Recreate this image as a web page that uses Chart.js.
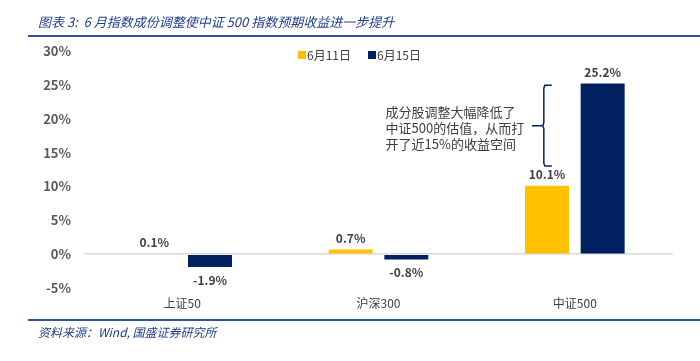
<!DOCTYPE html>
<html>
<head>
<meta charset="utf-8">
<script src="https://cdn.jsdelivr.net/npm/chart.js@4.4.1/dist/chart.umd.min.js"></script>
<style>
  html, body { margin: 0; padding: 0; background: #fff; }
  #wrap { position: relative; width: 700px; height: 361px; }
</style>
</head>
<body>
<div id="wrap"><canvas id="chart" width="700" height="361"></canvas></div>
<script>
// chart data
const categories = ["上证50", "沪深300", "中证500"]
const june11 = [0.1, 0.7, 10.1]
const june15 = [-1.9, -0.8, 25.2]
const seriesNames = ["6月11日", "6月15日"]
const yTicks = [-5, 0, 5, 10, 15, 20, 25, 30]
const titleText = "图表 3:  6 月指数成份调整使中证 500 指数预期收益进一步提升"
const sourceText = "资料来源：Wind, 国盛证券研究所"
const noteLines = ["成分股调整大幅降低了", "中证500的估值，从而打", "开了近15%的收益空间"]

const FONT = "'Noto Sans CJK SC', 'Noto Sans', sans-serif"
const YELLOW = "#FFC000"
const NAVY = "#002060"
const BLUE = "#2F5597"

// title, legend, source line, labels and bracket note
const decorations = {
  id: "decorations",
  afterDraw(chart) {
    const ctx = chart.ctx
    const x = chart.scales.x
    const y = chart.scales.y
    ctx.save()

    // header / footer
    ctx.fillStyle = "#1F3F8F"
    ctx.font = "italic 13px " + FONT
    ctx.textBaseline = "middle"
    ctx.textAlign = "left"
    ctx.fillText(titleText, 38, 22)
    ctx.font = "italic 12px " + FONT
    ctx.fillText(sourceText, 38, 332)
    ctx.strokeStyle = BLUE
    ctx.lineWidth = 2
    ctx.beginPath()
    ctx.moveTo(28, 36); ctx.lineTo(700, 36)
    ctx.moveTo(28, 320); ctx.lineTo(700, 320)
    ctx.stroke()

    // legend
    ctx.font = "12px " + FONT
    let lx = 298
    chart.data.datasets.forEach(ds => {
      ctx.fillStyle = ds.backgroundColor
      ctx.fillRect(lx, 51, 8, 8)
      ctx.fillStyle = "#404040"
      ctx.fillText(ds.label, lx + 9, 55)
      lx += 70
    })

    // value labels
    ctx.font = "bold 12px " + FONT
    ctx.fillStyle = "#404040"
    ctx.textAlign = "center"
    chart.data.datasets.forEach((ds, i) => {
      chart.getDatasetMeta(i).data.forEach((bar, j) => {
        const v = ds.data[j]
        const ty = v >= 0 ? bar.y - 11 : bar.y + 13
        ctx.fillText(v.toFixed(1) + "%", bar.x, ty)
      })
    })

    // note text
    ctx.font = "13px " + FONT
    ctx.fillStyle = "#404040"
    ctx.textAlign = "left"
    const tx = x.getPixelForValue(1) + 7
    const ty0 = y.getPixelForValue(21.0)
    noteLines.forEach((line, k) => ctx.fillText(line, tx, ty0 + k * 16))

    // bracket
    const bx = x.getPixelForValue(2) - 31
    const top = y.getPixelForValue(24.95)
    const bot = y.getPixelForValue(13.0)
    const mid = (top + bot) / 2
    ctx.strokeStyle = NAVY
    ctx.lineWidth = 1.5
    ctx.beginPath()
    ctx.moveTo(bx + 8, top); ctx.lineTo(bx + 1, top); ctx.lineTo(bx, top + 3)
    ctx.lineTo(bx, mid - 3); ctx.lineTo(bx - 1, mid)
    ctx.lineTo(bx, mid + 3)
    ctx.lineTo(bx, bot - 3); ctx.lineTo(bx + 1, bot); ctx.lineTo(bx + 8, bot)
    ctx.moveTo(bx - 12, mid); ctx.lineTo(bx - 1, mid)
    ctx.stroke()
    ctx.restore()
  }
}

new Chart(document.getElementById("chart"), {
  type: "bar",
  data: {
    labels: categories,
    datasets: [
      { label: seriesNames[0], data: june11, backgroundColor: YELLOW },
      { label: seriesNames[1], data: june15, backgroundColor: NAVY },
    ],
  },
  options: {
    responsive: false,
    animation: false,
    layout: { padding: { left: 0, right: 27, top: 51, bottom: 48 } },
    datasets: { bar: { barPercentage: 0.79, categoryPercentage: 0.567 } },
    plugins: {
      legend: { display: false },
      tooltip: { enabled: false },
    },
    scales: {
      x: {
        grid: { display: false, drawTicks: false },
        border: { display: false },
        ticks: { color: "#404040", font: { family: FONT, size: 12 }, padding: 8 },
        afterFit(scale) { scale.height = 25 },
      },
      y: {
        min: -5,
        max: 30,
        afterBuildTicks(scale) { scale.ticks = yTicks.map(v => ({ value: v })) },
        afterFit(scale) { scale.width = 84 },
        grid: {
          drawTicks: false,
          color: c => (c.tick && c.tick.value === 0 ? "#D9D9D9" : "rgba(0,0,0,0)"),
          lineWidth: 1.5,
        },
        border: { display: false },
        ticks: {
          color: "#595959",
          font: { family: FONT, size: 13, weight: "bold" },
          padding: 13,
          callback: v => v + "%",
        },
      },
    },
  },
  plugins: [decorations],
})
</script>
</body>
</html>
